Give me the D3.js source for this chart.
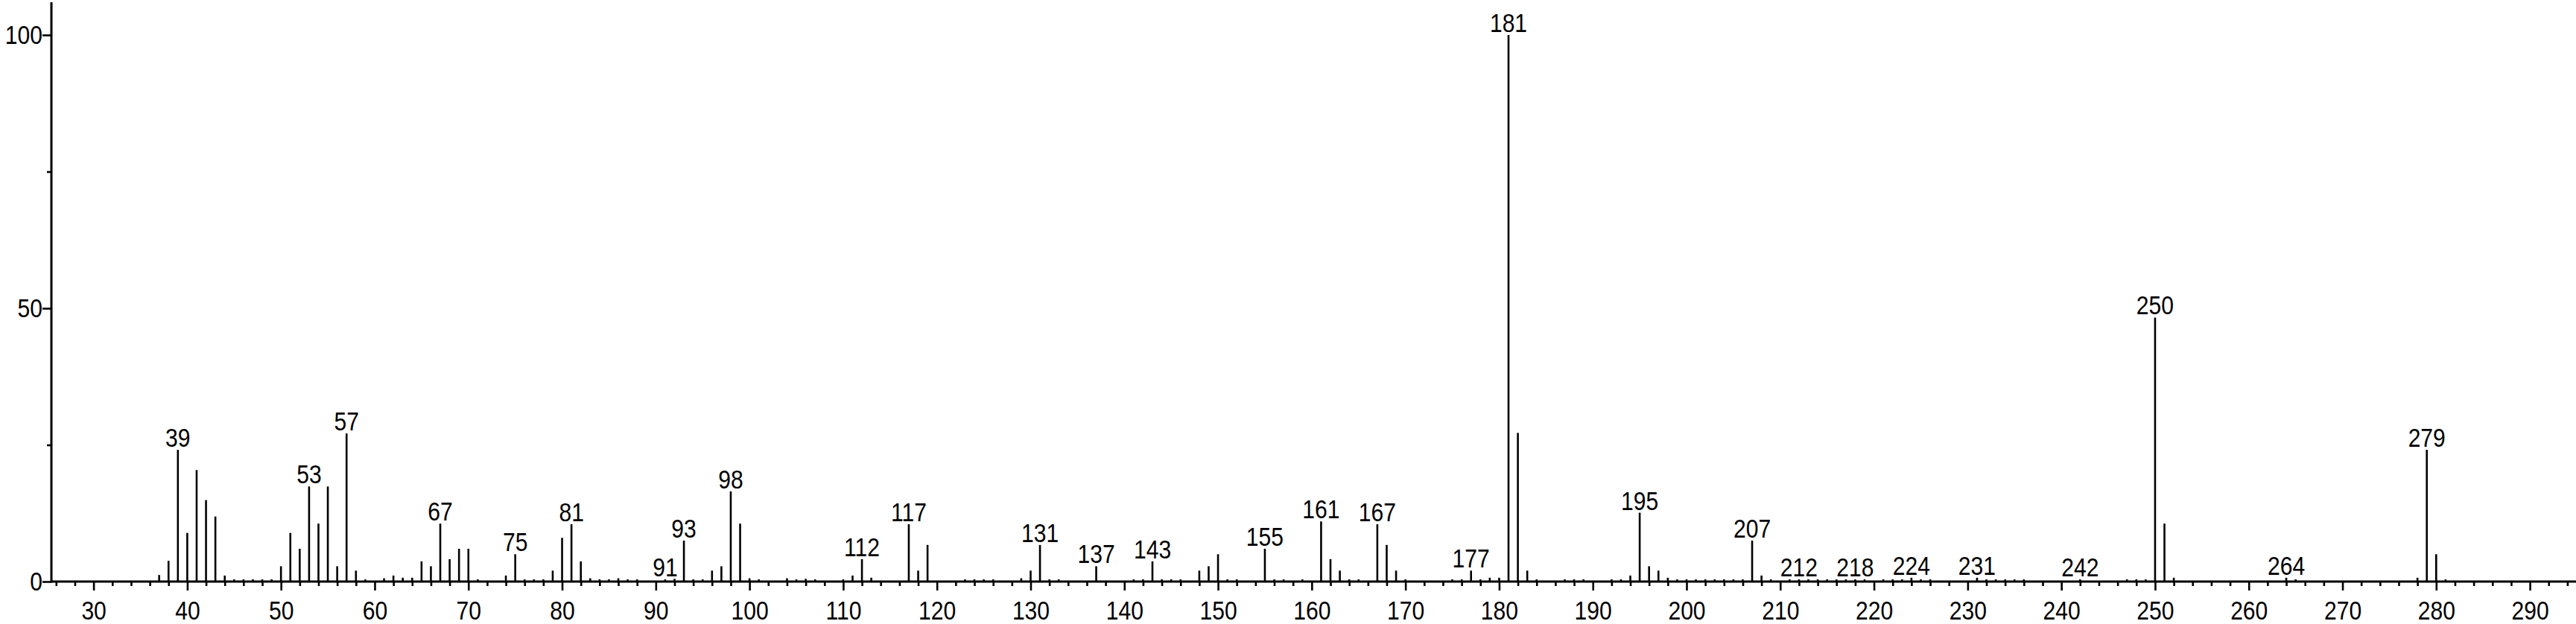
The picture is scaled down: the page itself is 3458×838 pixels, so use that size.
<!DOCTYPE html>
<html>
<head>
<meta charset="utf-8">
<script src="https://cdn.jsdelivr.net/npm/d3@7"></script>
<style>
  body { margin: 0; background: #fff; }
  text { font-family: "Liberation Sans", Arial, sans-serif; }
</style>
</head>
<body>
<div id="canvas"></div>
<script>
"use strict"

/* peaks: m/z and relative intensity (%) */
let mz = [
  37, 38, 39, 40, 41, 42, 43, 44, 45, 46, 47, 48, 49,
  50, 51, 52, 53, 54, 55, 56, 57, 58, 59, 61, 62, 63, 64, 65, 66, 67, 68, 69,
  70, 71, 74, 75, 76, 77, 78, 79, 80, 81, 82, 83, 84, 85, 86, 87, 88,
  91, 92, 93, 94, 95, 96, 97, 98, 99, 100, 101, 104, 105, 106, 107,
  110, 111, 112, 113, 117, 118, 119, 123, 124, 125, 126, 129,
  130, 131, 132, 133, 137, 141, 142, 143, 144, 145, 146, 148, 149,
  150, 151, 152, 155, 156, 157, 159, 161, 162, 163, 164, 165, 167, 168, 169,
  170, 175, 176, 177, 178, 179, 180, 181, 182, 183, 184, 187, 188, 189,
  192, 193, 194, 195, 196, 197, 198, 199, 200, 201, 202, 203, 204, 205, 206, 207, 208, 209,
  211, 212, 213, 214, 215, 216, 217, 218, 219, 221, 222, 223, 224, 225, 226,
  231, 232, 233, 234, 235, 236, 242, 247, 248, 249,
  250, 251, 252, 264, 265, 278, 279, 280, 281
];
let intensity = [
  1.2, 3.8, 24.1, 8.9, 20.4, 14.9, 11.9, 1.1, 0.4, 0.4, 0.4, 0.4, 0.4,
  2.8, 8.9, 6.0, 17.4, 10.6, 17.4, 2.8, 27.1, 2.0, 0.4, 0.6, 1.1, 0.7, 0.7, 3.7, 2.8, 10.6, 4.1, 6.0,
  6.0, 0.4, 1.1, 5.0, 0.4, 0.4, 0.4, 2.0, 8.0, 10.5, 3.7, 0.6, 0.4, 0.4, 0.6, 0.4, 0.4,
  0.4, 0.5, 7.5, 0.4, 0.4, 2.0, 2.8, 16.5, 10.6, 0.6, 0.4, 0.6, 0.4, 0.5, 0.4,
  0.4, 1.1, 4.1, 0.7, 10.5, 2.0, 6.7, 0.4, 0.4, 0.4, 0.4, 0.6,
  2.0, 6.7, 0.4, 0.4, 2.8, 0.4, 0.4, 3.7, 0.4, 0.4, 0.4, 2.0, 2.8,
  5.0, 0.4, 0.4, 6.0, 0.4, 0.4, 0.4, 11.0, 4.1, 2.0, 0.4, 0.4, 10.5, 6.7, 2.0,
  0.4, 0.4, 0.4, 2.0, 0.4, 0.7, 0.7, 100, 27.2, 2.0, 0.4, 0.4, 0.4, 0.4,
  0.4, 0.4, 1.1, 12.6, 2.8, 2.0, 0.7, 0.4, 0.4, 0.4, 0.4, 0.4, 0.4, 0.4, 0.4, 7.5, 1.1, 0.4,
  0.4, 0.4, 0.4, 0.4, 0.4, 0.4, 0.4, 0.4, 0.4, 0.4, 0.4, 0.4, 0.7, 0.4, 0.4,
  0.7, 0.4, 0.4, 0.4, 0.4, 0.4, 0.4, 0.4, 0.4, 0.4,
  48.3, 10.6, 0.7, 0.7, 0.4, 0.7, 24.1, 5.0, 0.4
];

/* peaks that carry an m/z label */
let labelled = [39, 53, 57, 67, 75, 81, 91, 93, 98, 112, 117, 131, 137, 143, 155,
  161, 167, 177, 181, 195, 207, 212, 218, 224, 231, 242, 250, 264, 279];

/* axis ticks */
let xMajor = d3.range(30, 291, 10);
let xMinor = d3.range(26, 295, 2).filter(v => v % 10 !== 0);
let yMajor = [0, 50, 100];
let yMinor = [25, 75];

let peaks = mz.map((m, i) => ({ mz: m, val: intensity[i] }));

let fontSize = 35;
let squeeze = "scale(0.86,1)";   // the original type is a narrow sans

let drawing = d3.select("#canvas")
  .append("svg")
  .attr("width", 3458)
  .attr("height", 838);

let x = d3.scaleLinear().domain([25.5, 295]).range([69, 3459]);
let y = d3.scaleLinear().domain([0, 100]).range([781, 47]);

/* ---------- bars ---------- */
drawing.append("g")
  .selectAll("line")
  .data(peaks)
  .join("line")
  .attr("x1", d => x(d.mz)).attr("x2", d => x(d.mz))
  .attr("y1", y(0)).attr("y2", d => y(d.val))
  .attr("stroke", "black")
  .attr("stroke-width", 2.6);

/* ---------- peak labels ---------- */
drawing.append("g")
  .selectAll("text")
  .data(peaks.filter(d => labelled.includes(d.mz)))
  .join("text")
  .attr("transform", d => `translate(${x(d.mz)},${y(d.val) - 4}) ${squeeze}`)
  .attr("text-anchor", "middle")
  .attr("font-size", fontSize)
  .text(d => d.mz);

/* ---------- x axis ---------- */
let xAxis = drawing.append("g")
  .attr("transform", `translate(0,${y(0)})`)
  .call(d3.axisBottom(x).tickValues(xMajor).tickSize(12).tickSizeOuter(0).tickPadding(14));
xAxis.select(".domain").remove();
xAxis.selectAll("line").attr("stroke-width", 2.6);
xAxis.selectAll("text")
  .attr("font-size", fontSize)
  .attr("font-family", "Liberation Sans, Arial, sans-serif")
  .attr("fill", "black")
  .attr("transform", squeeze);

let xAxisMinor = drawing.append("g")
  .attr("transform", `translate(0,${y(0)})`)
  .call(d3.axisBottom(x).tickValues(xMinor).tickSize(6).tickFormat(""));
xAxisMinor.select(".domain").remove();
xAxisMinor.selectAll("line").attr("stroke-width", 2.6);

drawing.append("line")
  .attr("x1", x(25.5)).attr("x2", x(295))
  .attr("y1", y(0)).attr("y2", y(0))
  .attr("stroke", "black")
  .attr("stroke-width", 3);

/* ---------- y axis ---------- */
let yAxis = drawing.append("g")
  .attr("transform", `translate(${x(25.5)},0)`)
  .call(d3.axisLeft(y).tickValues(yMajor).tickSize(12).tickPadding(2));
yAxis.select(".domain").remove();
yAxis.selectAll("line").attr("stroke-width", 2.6);
yAxis.selectAll("text")
  .attr("font-size", fontSize)
  .attr("font-family", "Liberation Sans, Arial, sans-serif")
  .attr("fill", "black")
  .attr("transform", squeeze);

let yAxisMinor = drawing.append("g")
  .attr("transform", `translate(${x(25.5)},0)`)
  .call(d3.axisLeft(y).tickValues(yMinor).tickSize(6).tickFormat(""));
yAxisMinor.select(".domain").remove();
yAxisMinor.selectAll("line").attr("stroke-width", 2.6);

drawing.append("line")
  .attr("x1", x(25.5)).attr("x2", x(25.5))
  .attr("y1", y(0) + 1.5).attr("y2", y(106))
  .attr("stroke", "black")
  .attr("stroke-width", 3);
</script>
</body>
</html>
